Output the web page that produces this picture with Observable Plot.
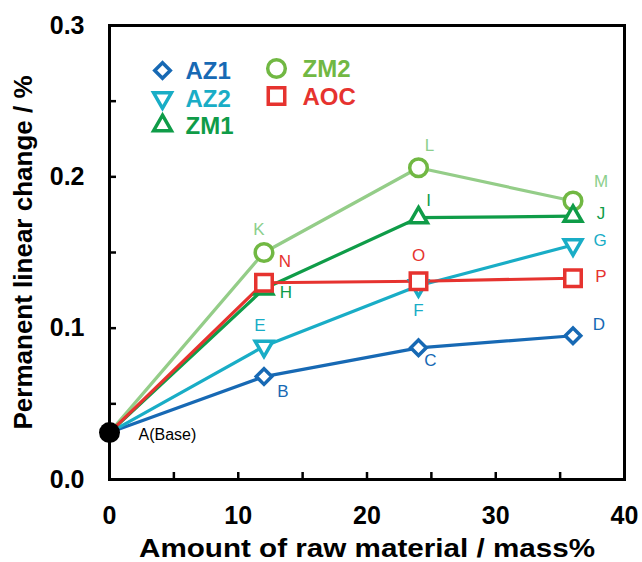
<!DOCTYPE html>
<html><head><meta charset="utf-8">
<script src="https://cdn.jsdelivr.net/npm/d3@7"></script>
<script src="https://cdn.jsdelivr.net/npm/@observablehq/plot@0.6"></script>
<style>body{margin:0;background:#fff}</style>
</head><body><div id="chart"></div>
<script>
// ---- data ----
const baseAmount = 0;
const baseValue = 0.031;
const baseLabel = "A(Base)";
const amounts = [12, 24, 36];
const seriesNames = ["AZ1", "AZ2", "ZM1", "ZM2", "AOC"];
const az1Values = [0.068, 0.087, 0.095];
const az2Values = [0.088, 0.128, 0.155];
const zm1Values = [0.126, 0.173, 0.174];
const zm2Values = [0.150, 0.206, 0.184];
const aocValues = [0.130, 0.131, 0.133];
const az1Points = ["B", "C", "D"];
const az2Points = ["E", "F", "G"];
const zm1Points = ["H", "I", "J"];
const zm2Points = ["K", "L", "M"];
const aocPoints = ["N", "O", "P"];
const xTickValues = [0, 10, 20, 30, 40];
const xMinorTicks = [5, 10, 15, 20, 25, 30, 35];
const yTickValues = [0.0, 0.1, 0.2, 0.3];
const yMinorTicks = [0.05, 0.1, 0.15, 0.2, 0.25];
const xTitle = "Amount of raw material / mass%";
const yTitle = "Permanent linear change / %";

// ---- styles (not data) ----
const W = 642, H = 562;
const mL = 109, mR = 18, mT = 25, mB = 83;
const frameW = W - mL - mR, frameH = H - mT - mB;
const font = "'Liberation Sans', Arial, Helvetica, sans-serif";
const style = {
  AZ1: {values: az1Values, points: az1Points, color: "#1769b4", line: "#1769b4", label: "#1769b4", symbol: "diamond2", r: 7.0, rotate: 0},
  AZ2: {values: az2Values, points: az2Points, color: "#19adc6", line: "#19adc6", label: "#19adc6", symbol: "triangle", r: 6.6, rotate: 180},
  ZM1: {values: zm1Values, points: zm1Points, color: "#0f9c48", line: "#0f9c48", label: "#0f9c48", symbol: "triangle", r: 6.6, rotate: 0},
  ZM2: {values: zm2Values, points: zm2Points, color: "#71b843", line: "#94cd88", label: "#8ccf8c", symbol: "circle", r: 8.8, rotate: 0},
  AOC: {values: aocValues, points: aocPoints, color: "#e6332f", line: "#e6332f", label: "#e6332f", symbol: "square", r: 9.3, rotate: 0}
};
// label placement offsets (px) per point letter
const labelOffset = {
  B: [19, 15], C: [12, 13], D: [26, -11],
  E: [-4, -21], F: [0, 25], G: [27, -4],
  H: [22, 4], I: [10, -17], J: [28, -3],
  K: [-5, -23], L: [11, -22], M: [28, -19],
  N: [21, -21], O: [0, -26], P: [28, -2]
};
const drawOrder = ["ZM2", "AZ1", "AZ2", "ZM1", "AOC"];

const marks = [];
// frame and inward ticks
marks.push(Plot.frame({stroke: "#000", strokeWidth: 3}));
marks.push(Plot.tickX(xMinorTicks, {x: d => d, insetTop: frameH - 7, stroke: "#000", strokeWidth: 2.5}));
marks.push(Plot.tickY(yMinorTicks, {y: d => d, insetRight: frameW - 7, stroke: "#000", strokeWidth: 2.5}));
// axes (labels only)
marks.push(Plot.axisX({ticks: xTickValues, tickSize: 0, tickPadding: 27, fontSize: 25, fontWeight: "bold", tickFormat: d => String(d), label: null}));
marks.push(Plot.axisY({ticks: yTickValues, tickSize: 0, tickPadding: 25, fontSize: 25, fontWeight: "bold", tickFormat: d => d.toFixed(1), label: null}));
// axis titles
marks.push(Plot.text([xTitle], {frameAnchor: "bottom", dy: 69, text: d => d, lineAnchor: "middle", textAnchor: "middle", fontSize: 26, fontWeight: "bold"}));
marks.push(Plot.text([yTitle], {frameAnchor: "left", dx: -86, rotate: -90, text: d => d, lineAnchor: "middle", textAnchor: "middle", fontSize: 26, fontWeight: "bold"}));

// series
for (const name of drawOrder) {
  const s = style[name];
  const rows = [{x: baseAmount, y: baseValue, p: null}].concat(amounts.map((a, i) => ({x: a, y: s.values[i], p: s.points[i]})));
  marks.push(Plot.line(rows, {x: "x", y: "y", stroke: s.line, strokeWidth: 3.2}));
}
for (const name of drawOrder) {
  const s = style[name];
  const pts = amounts.map((a, i) => ({x: a, y: s.values[i], p: s.points[i]}));
  marks.push(Plot.dot(pts, {x: "x", y: "y", symbol: s.symbol, r: s.r, rotate: s.rotate, stroke: s.color, fill: "white", strokeWidth: 3.5}));
  for (const pt of pts) {
    const [dx, dy] = labelOffset[pt.p];
    marks.push(Plot.text([pt], {x: "x", y: "y", text: "p", dx, dy, fill: s.label, fontSize: 17, fontWeight: "normal"}));
  }
}
// base point
marks.push(Plot.dot([{x: baseAmount, y: baseValue}], {x: "x", y: "y", r: 10.5, fill: "#000"}));
marks.push(Plot.text([{x: baseAmount, y: baseValue, t: baseLabel}], {x: "x", y: "y", text: "t", dx: 29, dy: 2, textAnchor: "start", fontSize: 16, fontWeight: "normal", fill: "#000"}));

// legend
const legendOrder = ["AZ1", "AZ2", "ZM1", "ZM2", "AOC"];
legendOrder.forEach((name, i) => {
  const s = style[name];
  const col = Math.floor(i / 3), row = i % 3;
  const sx = col === 0 ? 53 : 167;
  const tx = col === 0 ? 76 : 193;
  const dy = (col === 0 ? 45 : 43) + row * 27.5;
  marks.push(Plot.dot([name], {frameAnchor: "top-left", dx: sx, dy, symbol: s.symbol, r: s.r, rotate: s.rotate, stroke: s.color, fill: "white", strokeWidth: 3.5}));
  marks.push(Plot.text([name], {frameAnchor: "top-left", dx: tx, dy: dy + 1, text: d => d, textAnchor: "start", lineAnchor: "middle", fill: s.color, fontSize: 24, fontWeight: "bold"}));
});

const chart = Plot.plot({
  width: W, height: H,
  marginLeft: mL, marginRight: mR, marginTop: mT, marginBottom: mB,
  x: {domain: [0, 40]},
  y: {domain: [0, 0.3]},
  style: {fontFamily: font, background: "#fff", color: "#000", fontWeight: "bold"},
  marks
});
// widen the x title to the reference's span
chart.querySelectorAll("text").forEach(t => {
  if (t.textContent === xTitle) {
    t.setAttribute("textLength", "456");
    t.setAttribute("lengthAdjust", "spacingAndGlyphs");
  }
});
document.getElementById("chart").appendChild(chart);
</script>
</body></html>
